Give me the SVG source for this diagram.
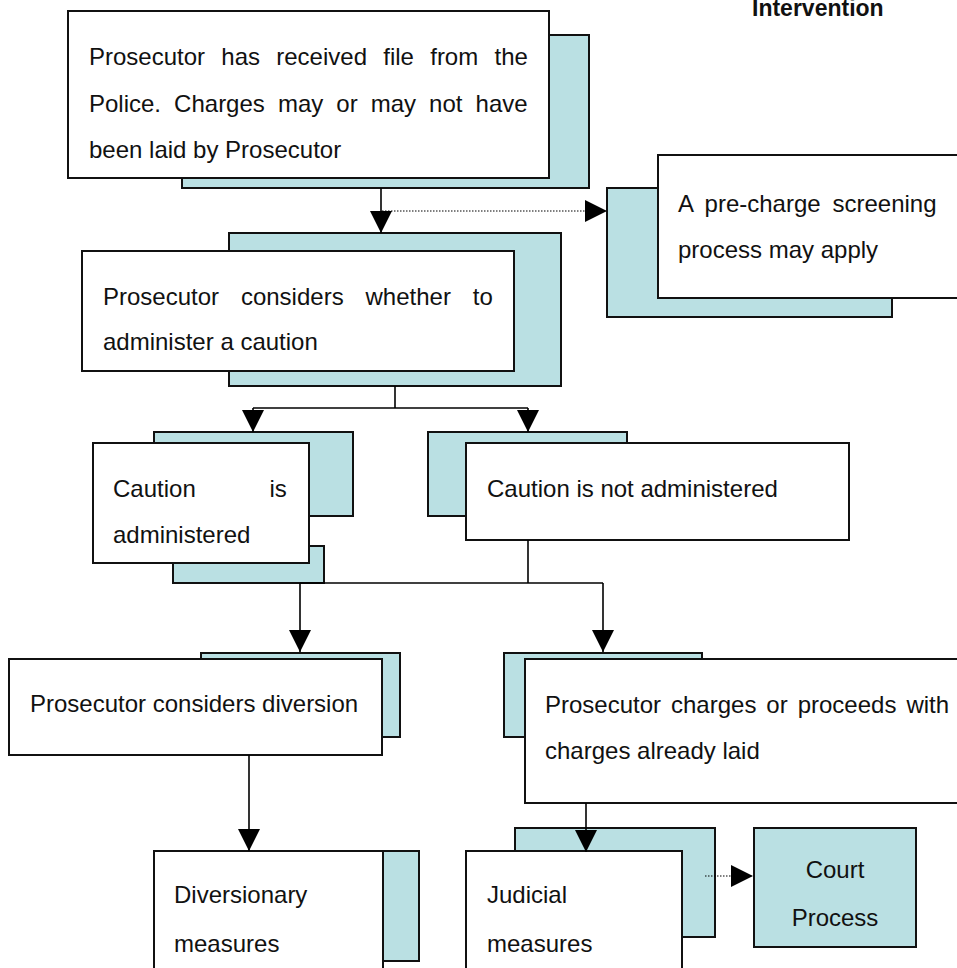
<svg xmlns="http://www.w3.org/2000/svg" width="957" height="968" viewBox="0 0 957 968">
<style>
.sh{fill:#bae0e3;stroke:#111;stroke-width:2}
.wb{fill:#fff;stroke:#111;stroke-width:2}
.t{font-family:"Liberation Sans",Arial,sans-serif;font-size:24px;fill:#111}
.title{font-family:"Liberation Sans",Arial,sans-serif;font-size:23px;font-weight:bold;fill:#111}
.c{fill:none;stroke:#000;stroke-width:1.6}
.d{fill:none;stroke:#000;stroke-width:1.2;stroke-dasharray:1.5 1.5}
</style>
<defs>
<marker id="ah" markerUnits="userSpaceOnUse" markerWidth="22" markerHeight="22" refX="20" refY="10" orient="auto" viewBox="0 0 20 20">
<path d="M0,0 L20,10 L0,20 z" fill="#000"/>
</marker>
</defs>
<rect width="957" height="968" fill="#fff"/>
<text class="title" x="752" y="16">Intervention</text>

<g id="n-received">
<rect class="sh" x="182" y="35" width="407" height="153"/>
<rect class="wb" x="68" y="11" width="481" height="167"/>
<text class="t" x="89" y="65" word-spacing="9.6">Prosecutor has received file from the</text>
<text class="t" x="89" y="112" word-spacing="6.4">Police. Charges may or may not have</text>
<text class="t" x="89" y="158">been laid by Prosecutor</text>
</g>

<g id="n-screening">
<rect class="sh" x="607" y="188" width="285" height="129"/>
<rect class="wb" x="658" y="155" width="305" height="143"/>
<text class="t" x="678" y="212" word-spacing="5.2">A pre-charge screening</text>
<text class="t" x="678" y="258">process may apply</text>
</g>

<g id="n-considers-caution">
<rect class="sh" x="229" y="233" width="332" height="153"/>
<rect class="wb" x="82" y="251" width="432" height="120"/>
<text class="t" x="103" y="305" word-spacing="15.2">Prosecutor considers whether to</text>
<text class="t" x="103" y="350">administer a caution</text>
</g>

<g id="n-caution-yes">
<rect class="sh" x="154" y="432" width="199" height="84"/>
<rect class="sh" x="173" y="546" width="151" height="37"/>
<rect class="wb" x="93" y="443" width="216" height="120"/>
<text class="t" x="113" y="497" word-spacing="67">Caution is</text>
<text class="t" x="113" y="543">administered</text>
</g>

<g id="n-caution-no">
<rect class="sh" x="428" y="432" width="199" height="84"/>
<rect class="wb" x="466" y="443" width="383" height="97"/>
<text class="t" x="487" y="497">Caution is not administered</text>
</g>

<g id="n-diversion">
<rect class="sh" x="201" y="653" width="199" height="84"/>
<rect class="wb" x="9" y="659" width="373" height="96"/>
<text class="t" x="30" y="712">Prosecutor considers diversion</text>
</g>

<g id="n-charges">
<rect class="sh" x="504" y="653" width="198" height="84"/>
<rect class="wb" x="525" y="659" width="440" height="144"/>
<text class="t" x="545" y="713" word-spacing="3.3">Prosecutor charges or proceeds with</text>
<text class="t" x="545" y="759">charges already laid</text>
</g>

<g id="n-diversionary">
<rect class="sh" x="250" y="851" width="169" height="110"/>
<rect class="wb" x="154" y="851" width="229" height="130"/>
<text class="t" x="174" y="903">Diversionary</text>
<text class="t" x="174" y="952">measures</text>
</g>

<g id="n-judicial">
<rect class="sh" x="515" y="828" width="200" height="109"/>
<rect class="wb" x="466" y="851" width="216" height="130"/>
<text class="t" x="487" y="903">Judicial</text>
<text class="t" x="487" y="952">measures</text>
</g>

<g id="n-court">
<rect class="sh" x="754" y="828" width="162" height="119"/>
<text class="t" x="835" y="878" text-anchor="middle">Court</text>
<text class="t" x="835" y="926" text-anchor="middle">Process</text>
</g>

<g id="connectors">
<path class="c" d="M381,188 V233" marker-end="url(#ah)"/>
<path class="d" d="M382,211 H607" marker-end="url(#ah)"/>
<path class="c" d="M395,386 V408"/>
<path class="c" d="M253,408 H528"/>
<path class="c" d="M253,408 V432" marker-end="url(#ah)"/>
<path class="c" d="M528,408 V432" marker-end="url(#ah)"/>
<path class="c" d="M528,540 V583"/>
<path class="c" d="M300,583 H603"/>
<path class="c" d="M300,583 V652" marker-end="url(#ah)"/>
<path class="c" d="M603,583 V652" marker-end="url(#ah)"/>
<path class="c" d="M249,755 V851" marker-end="url(#ah)"/>
<path class="c" d="M586,803 V852" marker-end="url(#ah)"/>
<path class="d" d="M705,876 H753" marker-end="url(#ah)"/>
</g>
</svg>
